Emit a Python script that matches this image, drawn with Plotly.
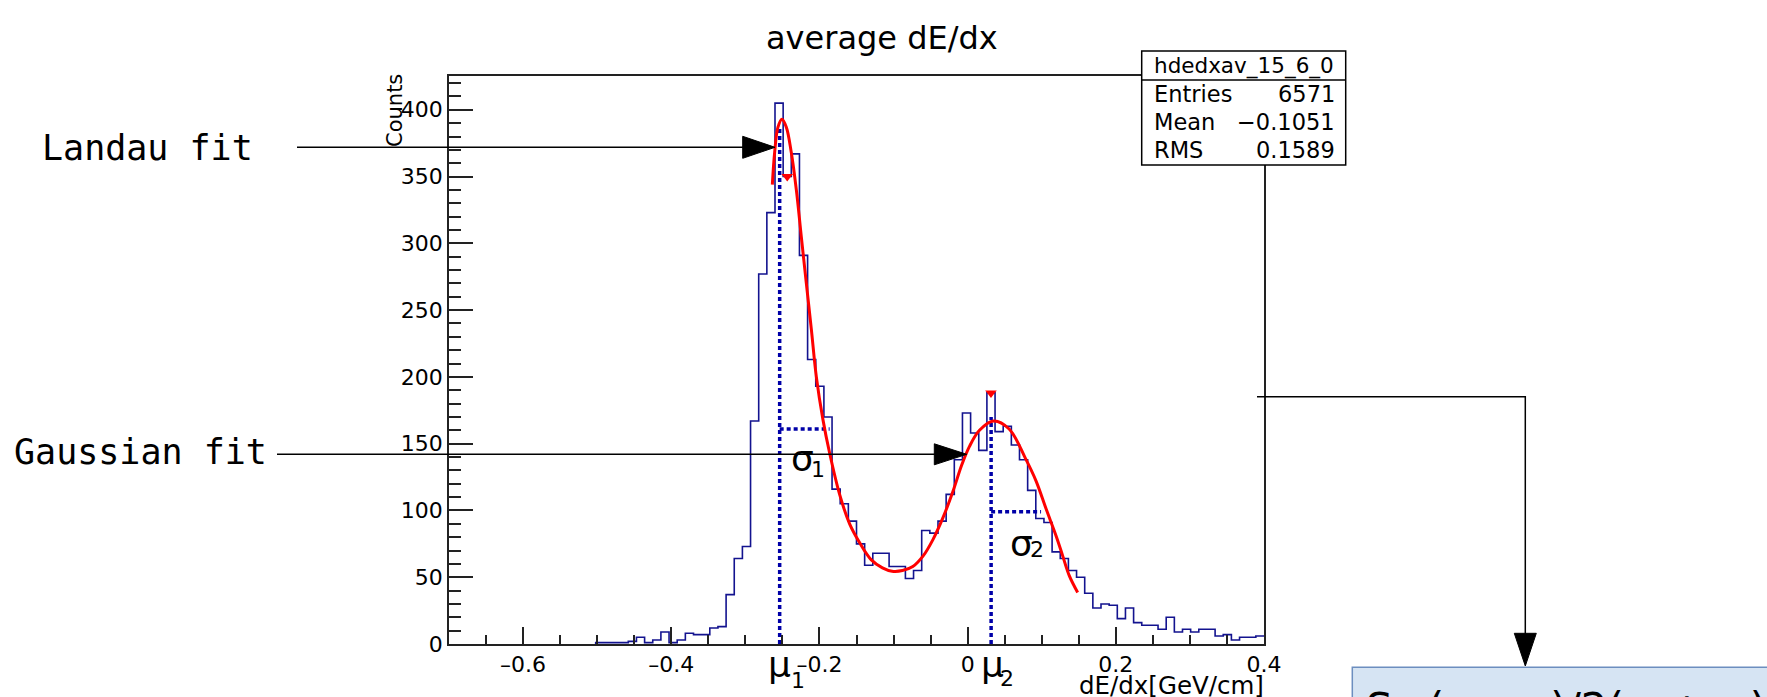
import plotly.graph_objects as go

# ---------------- data ----------------
x_min = -0.7
x_max = 0.4
bin_width = 0.011
y_max = 425.3

counts = ([0] * 18 +
          [1, 1, 1, 1, 2, 5, 1, 3, 9, 1, 3, 8, 7, 7, 12, 13] +
          [37, 64, 73, 167, 277, 323, 405, 350, 367, 291] +
          [213, 193, 170, 116, 105, 92, 75, 59, 68, 68] +
          [58, 58, 49, 55, 85, 83, 92, 112, 138, 173] +
          [158, 145, 188, 159, 163, 149, 138, 115, 94, 91] +
          [69, 64, 55, 50, 38, 27, 30, 29, 19, 27] +
          [16, 14, 14, 11, 20, 9, 11, 9, 11, 11, 6, 7, 3, 5, 5, 6])

fit_x = [-0.2636, -0.2605, -0.2560, -0.2506, -0.2447, -0.2380, -0.2312, -0.2245,
         -0.2177, -0.2110, -0.2042, -0.1953, -0.1863, -0.1728, -0.1593, -0.1459,
         -0.1300, -0.1150, -0.1020, -0.0880, -0.0740, -0.0600, -0.0470, -0.0330,
         -0.0200, -0.0080, 0.0025, 0.0160, 0.0350, 0.0560, 0.0780, 0.0924,
         0.1060, 0.1200, 0.1283, 0.1373, 0.1485]
fit_y = [344, 368, 387, 393, 387, 368, 340, 305,
         270, 236, 200, 168, 143, 112, 90, 76,
         63, 57, 54.5, 55, 58, 66, 78, 95,
         114, 134, 148, 160, 167, 161, 139, 122,
         101, 80, 66, 51, 38.6]

peak_x = [-0.2435, 0.0315]
peak_y = [350, 188]

mu_x = [-0.2537, 0.0317]
mu_top = [387, 170]
sigma_end_x = [-0.1863, 0.0991]
sigma_y = [161, 99]

x_tick_vals = [-0.6, -0.4, -0.2, 0, 0.2, 0.4]
x_tick_text = ["\u20130.6", "\u20130.4", "\u20130.2", "0", "0.2", "0.4"]
y_tick_vals = [0, 50, 100, 150, 200, 250, 300, 350, 400]
y_tick_text = [str(v) for v in y_tick_vals]

stats_title = "hdedxav_15_6_0"
stats_labels = ["Entries", "Mean", "RMS"]
stats_values = ["6571", "\u22120.1051", "0.1589"]

# ---------------- layout geometry (pixels) ----------------
W, H = 1767, 697
PL, PR, PT, PB = 449, 1264, 76, 644


def px(x):
    return (x - PL) / (PR - PL)


def py(y):
    return (PB - y) / (PB - PT)


def pt(x, y):
    return f"{px(x):.5f},{py(y):.5f}"


edges = [x_min + i * bin_width for i in range(len(counts) + 1)]
first = next(i for i, c in enumerate(counts) if c > 0)
hist_x = [edges[first]] + edges[first:]
hist_y = [0] + counts[first:] + [counts[-1]]

fig = go.Figure()

# histogram outline
fig.add_trace(go.Scatter(
    x=hist_x, y=hist_y, mode="lines", line_shape="hv",
    line=dict(color="#13138f", width=1.6), hoverinfo="skip"))

# dashed mu / sigma guide lines
dash_line = dict(color="#0000a8", width=3.5, dash="4px,3px")
for mx, mt, sx, sy in zip(mu_x, mu_top, sigma_end_x, sigma_y):
    fig.add_trace(go.Scatter(x=[mx, mx], y=[0, mt], mode="lines",
                             line=dash_line, hoverinfo="skip"))
    fig.add_trace(go.Scatter(x=[mx, sx], y=[sy, sy], mode="lines",
                             line=dash_line, hoverinfo="skip"))

# fit curve
fig.add_trace(go.Scatter(x=fit_x, y=fit_y, mode="lines", line_shape="spline",
                         line=dict(color="#ff0000", width=3), hoverinfo="skip"))

# peak markers
fig.add_trace(go.Scatter(x=peak_x, y=peak_y, mode="markers",
                         marker=dict(symbol="triangle-down", size=10, color="#ff0000"),
                         hoverinfo="skip"))

axis_col = "#222222"
fig.update_layout(
    width=W, height=H,
    margin=dict(l=PL, r=W - PR, t=PT, b=H - PB, pad=0),
    paper_bgcolor="white", plot_bgcolor="white", showlegend=False,
    font=dict(family="DejaVu Sans", color="black"),
    xaxis=dict(range=[x_min, x_max], showgrid=False, zeroline=False,
               showline=True, mirror=True, linecolor=axis_col, linewidth=1.5,
               ticks="inside", ticklen=17, tickwidth=1.5, tickcolor=axis_col,
               tickmode="array", tickvals=x_tick_vals, ticktext=x_tick_text,
               tickfont=dict(size=22, family="DejaVu Sans", color="black"),
               minor=dict(dtick=0.05, tick0=0, ticks="inside", ticklen=9,
                          tickwidth=1.5, tickcolor=axis_col)),
    yaxis=dict(range=[0, y_max], showgrid=False, zeroline=False,
               showline=True, mirror=True, linecolor=axis_col, linewidth=1.5,
               ticks="inside", ticklen=24, tickwidth=1.5, tickcolor=axis_col,
               tickmode="array", tickvals=y_tick_vals, ticktext=y_tick_text,
               tickfont=dict(size=22, family="DejaVu Sans", color="black"),
               minor=dict(dtick=10, tick0=0, ticks="inside", ticklen=12,
                          tickwidth=1.5, tickcolor=axis_col)),
)

shapes = []
blk = dict(color="black", width=1.5)
# Landau arrow
shapes.append(dict(type="line", xref="paper", yref="paper",
                   x0=px(297), y0=py(147.3), x1=px(744), y1=py(147.3), line=blk, layer="above"))
shapes.append(dict(type="path", xref="paper", yref="paper",
                   path=f"M {pt(775,147.3)} L {pt(742.7,136.3)} L {pt(742.7,158.3)} Z",
                   fillcolor="black", line=dict(color="black", width=1), layer="above"))
# Gaussian arrow
shapes.append(dict(type="line", xref="paper", yref="paper",
                   x0=px(277), y0=py(454.3), x1=px(936), y1=py(454.3), line=blk, layer="above"))
shapes.append(dict(type="path", xref="paper", yref="paper",
                   path=f"M {pt(966.7,454.3)} L {pt(934.3,443.8)} L {pt(934.3,464.8)} Z",
                   fillcolor="black", line=dict(color="black", width=1), layer="above"))
# connector to formula box
shapes.append(dict(type="path", xref="paper", yref="paper",
                   path=f"M {pt(1257,396.7)} L {pt(1525.3,396.7)} L {pt(1525.3,635)}",
                   line=blk, layer="above"))
shapes.append(dict(type="path", xref="paper", yref="paper",
                   path=f"M {pt(1525.3,666)} L {pt(1514.3,633.3)} L {pt(1536.3,633.3)} Z",
                   fillcolor="black", line=dict(color="black", width=1), layer="above"))
# formula box
shapes.append(dict(type="rect", xref="paper", yref="paper",
                   x0=px(1352.3), y0=py(667.3), x1=px(1800), y1=py(730),
                   fillcolor="#d6e4f3", line=dict(color="#6c8ebf", width=1.5), layer="above"))
# stats box
shapes.append(dict(type="rect", xref="paper", yref="paper",
                   x0=px(1141.7), y0=py(51), x1=px(1345.7), y1=py(165),
                   fillcolor="white", line=dict(color="black", width=1.5), layer="above"))
shapes.append(dict(type="line", xref="paper", yref="paper",
                   x0=px(1141.7), y0=py(80), x1=px(1345.7), y1=py(80),
                   line=dict(color="black", width=1.5), layer="above"))
fig.update_layout(shapes=shapes)

ann = []


def add_text(text, x, y, size, xanchor="left", yanchor="middle", family="DejaVu Sans",
             angle=0):
    ann.append(dict(text=text, xref="paper", yref="paper", x=px(x), y=py(y),
                    xanchor=xanchor, yanchor=yanchor, showarrow=False, textangle=angle,
                    font=dict(size=size, family=family, color="black")))


add_text("average dE/dx", 882, 38, 32, xanchor="center")
add_text("Counts", 395, 111, 21, xanchor="center", angle=-90)
add_text("dE/dx[GeV/cm]", 1266, 685, 24.5, xanchor="right")
add_text("Landau fit", 40, 148, 35, family="DejaVu Sans Mono")
add_text("Gaussian fit", 12, 452, 35, family="DejaVu Sans Mono")
# mu / sigma labels with separate subscripts
add_text("\u03bc", 766, 664, 36)
add_text("1", 797.5, 680, 22, xanchor="center")
add_text("\u03bc", 979, 664, 36)
add_text("2", 1006.5, 678, 22, xanchor="center")
add_text("\u03c3", 789, 459, 36)
add_text("1", 818, 469, 22, xanchor="center")
add_text("\u03c3", 1008, 543, 36)
add_text("2", 1037, 549, 22, xanchor="center")
add_text("S=(\u03bc<sub>1</sub>-\u03bc<sub>2</sub>)/2(\u03c3<sub>1</sub>+\u03c3<sub>2</sub>)",
         1364, 682, 42, yanchor="top")
# stats text
add_text(stats_title, 1243.7, 65.5, 21.5, xanchor="center")
for i, (lab, val) in enumerate(zip(stats_labels, stats_values)):
    yc = 93.7 + i * 28.3
    add_text(lab, 1152, yc, 22.5)
    add_text(val, 1337, yc, 22.5, xanchor="right")

fig.update_layout(annotations=ann)

fig.write_html("out.html")
